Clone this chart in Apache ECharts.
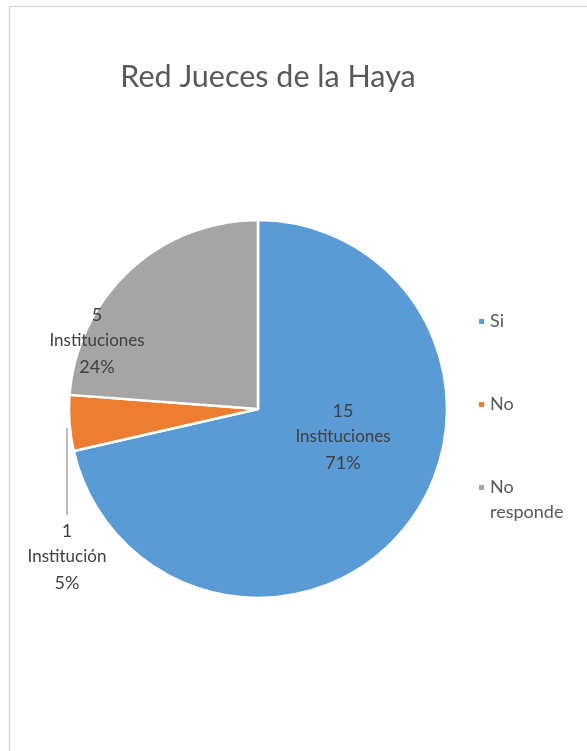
<!DOCTYPE html>
<html><head><meta charset="utf-8">
<script src="https://cdn.jsdelivr.net/npm/echarts@6/dist/echarts.min.js"></script>
<style>html,body{margin:0;padding:0;background:#fff}#c{width:587px;height:751px}</style>
</head><body><div id="c"></div>
<script>
var titleText = 'Red Jueces de la Haya';
var categories = ['Si', 'No', 'No responde'];
var values = [15, 1, 5];
var units = ['Instituciones', 'Institución', 'Instituciones'];
var colors = ['#5B9BD5', '#ED7D31', '#A5A5A5'];

var labelPos = [[343, 437], [67, 557], [97, 341]];
var FONT = 'Lato, "Open Sans", sans-serif';

var chart = echarts.init(document.getElementById('c'), null, {renderer: 'canvas'});
var total = values.reduce(function (a, b) { return a + b; }, 0);
var data = categories.map(function (n, i) {
  return {name: n, value: values[i], itemStyle: {color: colors[i]},
    labelLine: {show: i === 1}};
});
chart.setOption({
  animation: false,
  backgroundColor: '#fff',
  graphic: [{type: 'rect', shape: {x: 9.5, y: 6.5, width: 700, height: 900},
    style: {fill: 'none', stroke: '#D9D9D9', lineWidth: 1.5}, silent: true}],
  title: {text: titleText, left: 263, top: 57, textAlign: 'center',
    textStyle: {fontFamily: FONT, fontSize: 30.5, fontWeight: 'normal', color: '#595959'}},
  legend: [0, 1, 2].map(function (i) {
    var tops = [304, 387, 445];
    return {
      data: [categories[i]], orient: 'vertical', left: 472, top: tops[i],
      icon: 'rect', itemWidth: 7, itemHeight: 7, itemGap: 0,
      formatter: function (n) { return n === 'No responde' ? ' \nNo\nresponde' : n; },
      textStyle: {fontFamily: FONT, fontSize: 18, color: '#595959', lineHeight: 25}
    };
  }),
  series: [{
    type: 'pie', center: [258, 409], radius: 189, startAngle: 90, clockwise: true,
    avoidLabelOverlap: false,
    itemStyle: {borderColor: '#fff', borderWidth: 2.5},
    data: data,
    label: {
      show: true, position: 'outside', align: 'center', verticalAlign: 'middle',
      formatter: function (p) {
        var pct = Math.round(p.value / total * 100);
        return '{v|' + p.value + '}\n{u|' + units[p.dataIndex] + '}\n{v|' + pct + '%}';
      },
      rich: {
        v: {fontFamily: FONT, fontSize: 18, color: '#404040', lineHeight: 26, align: 'center'},
        u: {fontFamily: FONT, fontSize: 17, color: '#404040', lineHeight: 26, align: 'center'}
      }
    },
    labelLine: {lineStyle: {color: '#A6A6A6', width: 1.5}, length: 10, length2: 10},
    labelLayout: function (params) {
      var i = params.dataIndex;
      var r = {x: labelPos[i][0], y: labelPos[i][1], align: 'center', verticalAlign: 'middle'};
      if (i === 1) {
        r.labelLinePoints = [[67, 428], [67, 470], [67, 515]];
      }
      return r;
    }
  }]
});
</script></body></html>
